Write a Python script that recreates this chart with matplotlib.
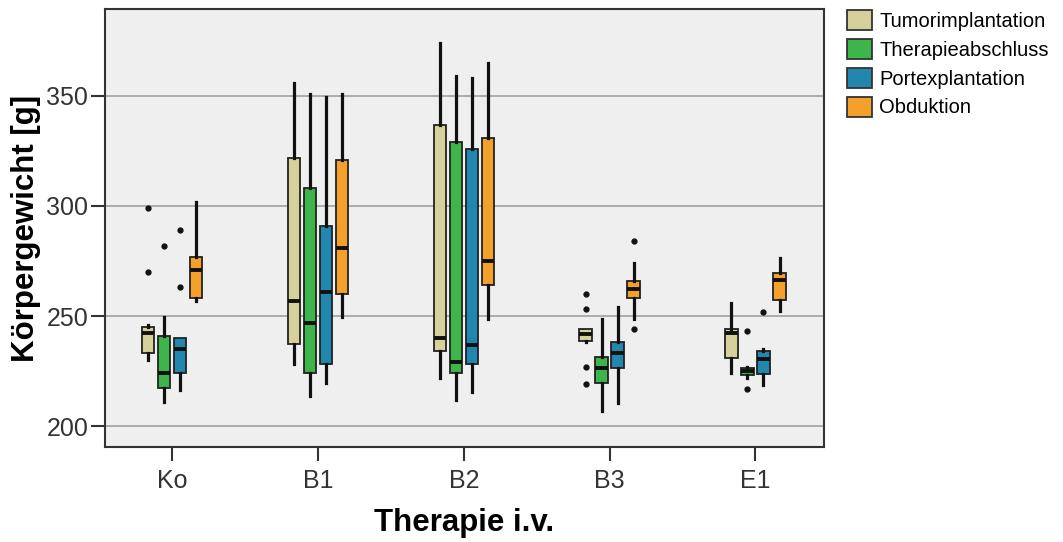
import matplotlib
matplotlib.use("Agg")
import matplotlib.pyplot as plt
from matplotlib.patches import Patch

plt.rcParams['font.family'] = ['Liberation Sans', 'DejaVu Sans']

# ==============================
# Data
# ==============================
groups = ["Ko", "B1", "B2", "B3", "E1"]
series = ["Tumorimplantation", "Therapieabschluss", "Portexplantation", "Obduktion"]
colors = ["#D6D09B", "#3DB54B", "#2187AF", "#F5A02A"]

# each list: one value per group (Ko, B1, B2, B3, E1)
tumor_whislo = [230, 228, 222, 238, 224]
tumor_q1 = [233, 237.5, 234, 238.5, 231]
tumor_med = [242.5, 257, 240, 242, 242.5]
tumor_q3 = [245, 322, 337, 244, 244]
tumor_whishi = [246, 356, 374, 244, 256]
tumor_fliers = [[270, 299], [], [], [219, 227, 253, 260], []]

thera_whislo = [211, 213.5, 212, 207, 222]
thera_q1 = [217.5, 224, 224, 219.5, 223]
thera_med = [224, 247, 229, 226.5, 225]
thera_q3 = [241, 308, 329, 231.5, 226.5]
thera_whishi = [249.5, 351, 359, 248.5, 227]
thera_fliers = [[282], [], [], [], [217, 243]]

port_whislo = [216.5, 219.5, 215.5, 210.5, 218.5]
port_q1 = [224, 228, 228, 226.5, 223.5]
port_med = [235, 261, 237, 233, 230.5]
port_q3 = [240, 291, 326, 238, 234]
port_whishi = [240, 349.5, 358, 254, 235]
port_fliers = [[263, 289], [], [], [], [252]]

obd_whislo = [257, 249.5, 248.5, 248.5, 252.5]
obd_q1 = [258, 260, 264, 258, 257.5]
obd_med = [271, 281, 275, 262.5, 266.5]
obd_q3 = [277, 321, 331, 266, 269.5]
obd_whishi = [302, 351, 365, 274, 276.5]
obd_fliers = [[], [], [], [244, 284], []]

all_stats = [
    (tumor_whislo, tumor_q1, tumor_med, tumor_q3, tumor_whishi, tumor_fliers),
    (thera_whislo, thera_q1, thera_med, thera_q3, thera_whishi, thera_fliers),
    (port_whislo, port_q1, port_med, port_q3, port_whishi, port_fliers),
    (obd_whislo, obd_q1, obd_med, obd_q3, obd_whishi, obd_fliers),
]

# ==============================
# Plot
# ==============================
fig = plt.figure(figsize=(10.63, 5.42), dpi=100)
ax = fig.add_axes([105 / 1063, 1 - 447 / 542, 719 / 1063, 438 / 542])
ax.set_facecolor("#EFEFEF")

offsets = [-0.165, -0.055, 0.055, 0.165]
for s, (lo, q1, med, q3, hi, fl) in enumerate(all_stats):
    stats = []
    for g in range(len(groups)):
        stats.append({"whislo": lo[g], "q1": q1[g], "med": med[g], "q3": q3[g],
                      "whishi": hi[g], "fliers": fl[g]})
    pos = [g + offsets[s] for g in range(len(groups))]
    ax.bxp(stats, positions=pos, widths=0.085, patch_artist=True, showcaps=False,
           boxprops=dict(facecolor=colors[s], edgecolor="#222222", linewidth=1.3),
           medianprops=dict(color="#111111", linewidth=2.8),
           whiskerprops=dict(color="#111111", linewidth=2.3),
           flierprops=dict(marker="o", markerfacecolor="#111111",
                           markeredgecolor="#111111", markersize=3.5),
           manage_ticks=False, zorder=3)

ax.set_xlim(-0.46, 4.47)
ax.set_ylim(190.5, 389.5)
ax.set_yticks([200, 250, 300, 350])
ax.set_xticks(range(len(groups)))
ax.set_xticklabels(groups)
ax.yaxis.grid(True, color="#9A9A9A", linewidth=1.1, zorder=0)
ax.set_axisbelow(True)

for sp in ax.spines.values():
    sp.set_color("#333333")
    sp.set_linewidth(1.5)
ax.tick_params(axis="both", length=10, width=1.5, color="#333333",
               labelsize=18, labelcolor="#333333")
ax.tick_params(axis="y", pad=2)
ax.tick_params(axis="x", pad=6)

ax.set_ylabel("Körpergewicht [g]", fontsize=22.5, fontweight="bold", labelpad=4)
ax.set_xlabel("Therapie i.v.", fontsize=22.5, fontweight="bold", labelpad=11)

handles = [Patch(facecolor=c, edgecolor="#333333", linewidth=1.3) for c in colors]
fig.legend(handles, series, loc="upper left", bbox_to_anchor=(847 / 1063, 1 - 10 / 542),
           frameon=False, fontsize=14.5, handlelength=1.24, handleheight=1.15,
           handletextpad=0.35, labelspacing=0.4, borderpad=0, borderaxespad=0)

plt.savefig("out.png", dpi=100)
